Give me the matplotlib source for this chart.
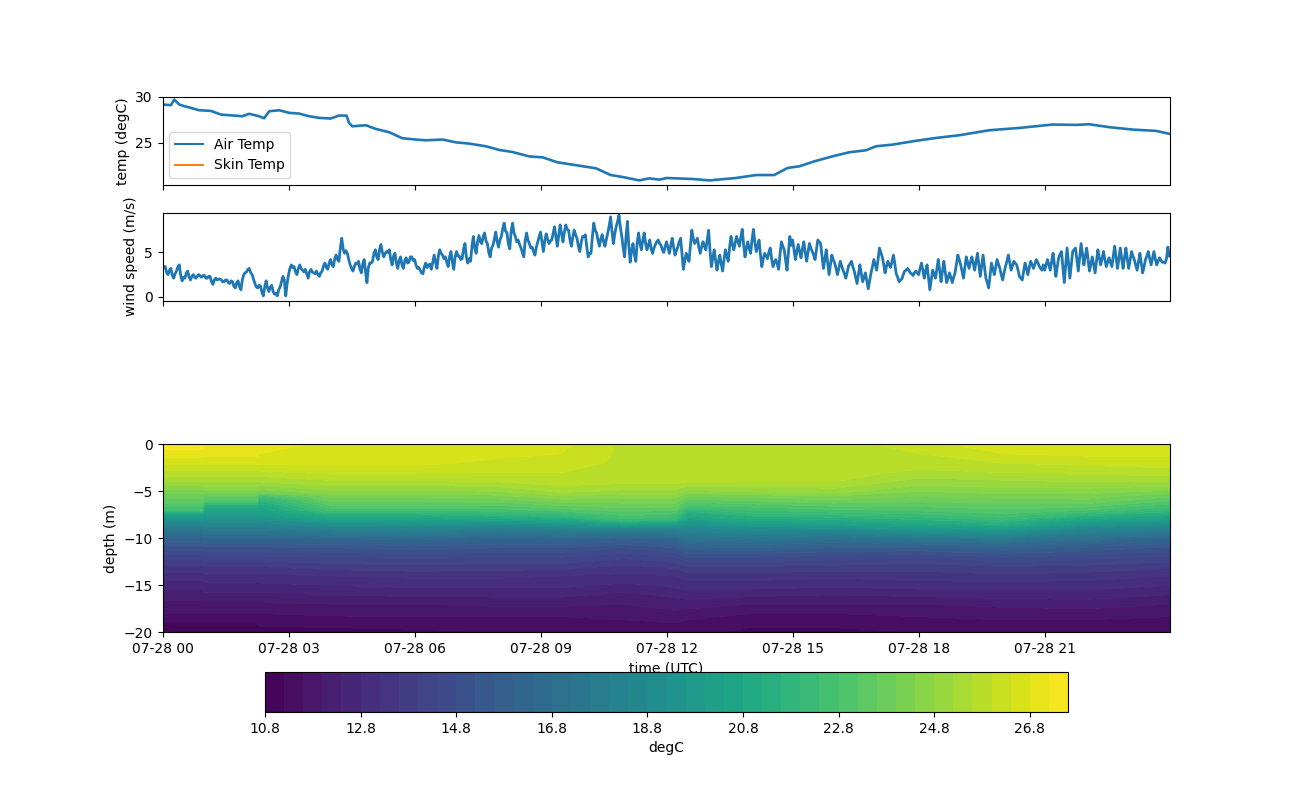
import numpy as np
import pandas as pd
import matplotlib
matplotlib.use("Agg")
import matplotlib.pyplot as plt
import matplotlib.dates as mdates

START = pd.Timestamp("2023-07-28 00:00")

air_hours = [0, 0.2, 0.28, 0.4, 0.52, 0.67, 0.87, 1.15, 1.39, 1.59, 1.9, 2.06, 2.3, 2.42, 2.54, 2.78,
             3.02, 3.25, 3.49, 3.73, 4.0, 4.2, 4.38, 4.44, 4.52, 4.84, 5.08, 5.4, 5.71, 6.03, 6.27,
             6.67, 6.98, 7.3, 7.7, 8.02, 8.33, 8.73, 9.05, 9.4, 9.76, 10.32, 10.67, 10.95, 11.35,
             11.59, 11.83, 12, 12.62, 13.02, 13.65, 14.13, 14.56, 14.88, 15.16, 15.52, 15.95, 16.35,
             16.75, 16.98, 17.38, 17.94, 18.41, 18.97, 19.68, 20.4, 21.19, 21.75, 22.06, 22.54, 23.1,
             23.65, 23.98]
air_temp = [29.13, 29.06, 29.67, 29.13, 28.95, 28.77, 28.51, 28.44, 28.04, 27.97, 27.86, 28.12, 27.86,
            27.64, 28.4, 28.51, 28.22, 28.15, 27.86, 27.68, 27.61, 27.93, 27.93, 27.14, 26.77, 26.88,
            26.48, 26.12, 25.47, 25.33, 25.25, 25.33, 25.03, 24.89, 24.6, 24.2, 23.98, 23.5, 23.4,
            22.86, 22.61, 22.21, 21.48, 21.27, 20.9, 21.12, 20.98, 21.16, 21.05, 20.9, 21.16, 21.48,
            21.48, 22.25, 22.43, 22.97, 23.51, 23.95, 24.17, 24.6, 24.78, 25.2, 25.5, 25.8, 26.34,
            26.59, 26.96, 26.92, 26.99, 26.67, 26.41, 26.27, 25.94]
skin_temp = [np.nan] * len(air_hours)

wind_00_03 = [3.1, 3.4, 3.4, 2.7, 2.5, 3.0, 3.2, 2.4, 2.1, 2.6, 2.9, 3.4, 3.6, 2.4, 1.8, 2.2, 2.1, 2.7,
              2.9, 2.2, 1.9, 2.3, 2.5, 2.2, 2.1, 2.4, 2.5, 2.3, 2.2, 2.4, 2.4, 2.1, 2.1, 2.3, 2.3, 1.7,
              1.4, 1.9, 2.1, 1.9, 2.0, 2.0, 1.9, 1.7, 1.7, 1.9, 1.9, 1.6, 1.5, 1.8, 1.7, 1.2, 1.0, 1.6,
              1.8, 1.1, 0.8, 1.9, 2.5, 2.7, 2.8, 3.1, 3.2, 2.7, 2.5, 2.0, 1.5, 1.1, 1.0, 1.3, 1.2, 0.5,
              0.1, 1.1, 1.8, 1.0, 0.6, 1.1, 1.3, 0.6, 0.3, 0.4, 0.1, 0.8, 1.1, 1.7, 2.3, 1.9, 0.1, 1.5]
wind_03_06 = [2.5, 3.2, 3.6, 3.3, 3.4, 2.8, 2.5, 3.2, 3.6, 3.2, 3.0, 2.8, 3.1, 2.6, 2.1, 2.8, 3.1, 2.8,
              2.7, 2.6, 2.9, 2.5, 2.3, 2.7, 2.9, 3.5, 3.8, 3.3, 3.1, 3.8, 4.2, 3.6, 3.4, 4.3, 4.7, 4.2,
              4.0, 5.5, 6.6, 5.4, 4.9, 5.2, 4.9, 4.2, 3.6, 3.2, 2.9, 3.4, 3.8, 3.7, 4.0, 3.1, 2.7, 3.7,
              4.2, 2.8, 1.6, 3.3, 3.8, 3.8, 4.0, 4.9, 5.3, 4.5, 4.2, 5.3, 5.9, 5.0, 4.5, 4.9, 5.1, 5.0,
              5.3, 4.2, 3.6, 4.6, 4.9, 3.8, 3.2, 4.1, 4.5, 3.6, 3.2, 4.1, 4.4, 3.8, 3.9, 4.5, 4.5, 4.1]
wind_06_09 = [4.2, 3.6, 3.2, 3.3, 3.0, 2.7, 2.6, 3.4, 3.8, 3.3, 3.6, 3.7, 3.1, 3.9, 4.7, 3.9, 3.2, 4.6,
              5.3, 4.9, 4.7, 4.3, 4.5, 3.9, 3.4, 4.5, 5.1, 3.9, 3.1, 4.5, 5.1, 4.6, 4.6, 4.2, 4.3, 5.4,
              6.0, 4.5, 3.8, 4.3, 4.0, 5.7, 6.8, 5.5, 4.9, 6.2, 6.9, 6.2, 6.0, 6.8, 7.2, 6.3, 6.0, 5.0,
              4.5, 5.5, 5.8, 6.5, 7.3, 6.2, 5.6, 6.4, 6.8, 7.7, 8.3, 7.4, 7.2, 6.0, 5.4, 7.4, 8.3, 7.2,
              6.8, 6.2, 6.4, 5.9, 5.5, 5.0, 4.5, 6.3, 7.2, 6.4, 6.0, 5.5, 5.6, 5.1, 4.7, 5.6, 6.2, 6.8]
wind_09_12 = [7.3, 6.2, 5.1, 6.3, 7.1, 6.5, 6.0, 6.3, 6.4, 7.2, 7.9, 6.7, 5.7, 7.0, 8.1, 7.1, 6.2, 7.3,
              8.1, 7.6, 7.5, 6.4, 5.7, 6.7, 7.5, 7.0, 6.6, 5.7, 5.1, 6.1, 6.8, 6.8, 7.0, 5.6, 4.5, 4.9,
              4.9, 6.8, 8.3, 7.5, 7.2, 6.4, 5.7, 6.5, 7.0, 6.2, 5.7, 6.5, 7.2, 8.0, 9.0, 7.4, 6.0, 7.1,
              7.9, 8.5, 9.2, 7.8, 6.8, 5.5, 4.5, 6.7, 8.5, 5.8, 3.9, 5.2, 6.0, 4.8, 4.0, 6.1, 7.2, 6.0,
              5.3, 6.4, 7.2, 6.0, 5.3, 5.9, 6.4, 5.4, 4.9, 5.5, 5.9, 6.2, 6.4, 6.0, 5.8, 5.3, 5.0, 5.7]
wind_12_15 = [6.2, 5.5, 4.9, 5.8, 6.6, 5.6, 4.7, 5.2, 5.6, 6.2, 6.6, 4.8, 3.1, 4.1, 4.9, 4.4, 4.0, 5.8,
              7.5, 6.6, 6.0, 6.3, 6.6, 5.6, 4.9, 5.6, 6.2, 5.7, 5.3, 6.4, 7.5, 5.2, 3.4, 4.4, 5.3, 4.1,
              3.0, 4.0, 4.7, 3.7, 2.9, 4.2, 5.3, 4.6, 4.0, 5.6, 6.8, 5.9, 5.3, 6.1, 6.8, 6.2, 5.7, 6.7,
              7.6, 5.9, 4.5, 5.5, 6.2, 5.4, 4.9, 6.4, 7.6, 6.2, 5.1, 5.7, 6.4, 4.8, 3.4, 4.3, 4.9, 4.6,
              4.3, 5.0, 5.5, 4.3, 3.4, 3.9, 4.2, 3.7, 3.1, 4.8, 6.2, 5.7, 5.3, 4.1, 3.0, 5.0, 6.8, 5.8]
wind_15_18 = [6.4, 5.3, 4.2, 5.1, 5.9, 5.1, 4.4, 5.4, 6.2, 5.0, 4.0, 5.0, 6.0, 5.5, 5.1, 4.7, 4.2, 5.3,
              6.4, 6.2, 6.0, 4.6, 3.2, 4.2, 5.3, 3.9, 2.5, 3.6, 4.7, 4.2, 3.8, 3.2, 2.5, 3.2, 4.0, 3.5,
              3.0, 2.6, 2.1, 2.8, 3.5, 3.7, 4.0, 3.4, 2.9, 2.2, 1.5, 2.5, 3.6, 2.7, 1.7, 2.2, 2.7, 1.8,
              0.9, 1.8, 2.7, 3.4, 4.2, 3.6, 3.0, 4.2, 5.5, 5.0, 4.5, 3.7, 2.7, 3.4, 4.0, 3.6, 3.3, 4.0,
              4.7, 3.7, 2.6, 2.2, 1.7, 1.9, 2.0, 2.5, 2.9, 3.0, 3.2, 3.0, 2.7, 2.6, 2.4, 2.7, 2.9, 2.7]
wind_18_21 = [2.5, 3.2, 3.8, 3.0, 2.1, 2.9, 3.6, 2.2, 0.8, 1.9, 3.0, 2.6, 2.1, 3.1, 4.2, 2.9, 1.7, 2.9,
              4.0, 2.8, 1.6, 2.1, 2.7, 2.2, 1.6, 2.2, 2.7, 3.7, 4.7, 4.2, 3.6, 2.9, 2.1, 3.3, 4.5, 3.9,
              3.2, 3.9, 4.5, 3.8, 3.0, 4.0, 4.9, 3.6, 2.3, 3.5, 4.7, 3.4, 2.1, 1.6, 1.0, 2.4, 3.8, 3.2,
              2.5, 3.3, 4.2, 3.7, 3.2, 2.5, 1.9, 2.7, 3.4, 4.0, 4.7, 3.9, 3.0, 3.5, 4.0, 3.8, 3.6, 3.0,
              2.3, 2.1, 1.9, 2.9, 3.8, 3.2, 2.5, 3.3, 4.0, 3.6, 3.2, 3.7, 4.2, 3.9, 3.5, 3.2, 3.0, 3.6]
wind_21_24 = [3.0, 3.6, 4.2, 3.6, 3.0, 4.0, 4.9, 3.6, 2.3, 3.4, 4.4, 4.8, 5.1, 3.4, 1.6, 3.6, 5.5, 3.8,
              2.1, 3.6, 5.1, 5.3, 5.5, 4.2, 2.9, 4.5, 6.0, 4.8, 3.6, 4.6, 5.5, 4.2, 2.9, 3.7, 4.5, 3.6,
              2.7, 4.0, 5.3, 4.4, 3.6, 4.3, 5.1, 4.2, 3.4, 3.9, 4.4, 3.9, 3.4, 4.6, 5.7, 4.4, 3.2, 4.3,
              5.5, 4.3, 3.2, 4.4, 5.5, 4.3, 3.2, 4.1, 5.1, 4.6, 4.2, 3.6, 3.0, 3.9, 4.9, 3.8, 2.7, 3.4,
              4.2, 4.6, 5.1, 4.3, 3.6, 4.3, 5.1, 4.3, 3.6, 4.0, 4.4, 4.1, 3.9, 3.9, 3.8, 4.3, 5.6, 4.6]
wind_segments = [wind_00_03, wind_03_06, wind_06_09, wind_09_12, wind_12_15, wind_15_18, wind_18_21, wind_21_24]

profile_hours = [0, 0.95, 1.0, 2.25, 2.3, 4, 6, 8, 9.5, 11, 12.2, 12.5, 14, 16, 18, 20, 22, 23.99]
depths = [0, -1, -2, -3, -4, -5, -5.5, -6, -6.5, -7, -7.5, -8, -8.5, -9, -10, -11, -12, -13, -14, -15,
          -16, -17, -18, -19, -20]
p00 = [27.5, 27.0, 26.5, 25.9, 25.2, 24.2, 23.8, 23.4, 23.0, 22.4, 20.4, 19.4, 18.4, 17.5, 16.0, 15.0, 14.2, 13.5, 13.0, 12.6, 12.2, 11.9, 11.6, 11.2, 11.0]
p01 = [27.5, 27.0, 26.5, 25.9, 25.2, 24.2, 23.8, 23.4, 23.0, 22.4, 20.4, 19.4, 18.4, 17.5, 16.0, 15.0, 14.2, 13.5, 13.0, 12.6, 12.2, 11.9, 11.6, 11.2, 11.0]
p02 = [27.2, 26.9, 26.5, 25.9, 25.2, 24.3, 23.6, 23.0, 21.4, 20.4, 19.8, 19.2, 18.6, 17.8, 16.2, 15.1, 14.3, 13.6, 13.1, 12.7, 12.3, 11.9, 11.6, 11.2, 11.0]
p03 = [27.2, 26.9, 26.5, 25.9, 25.2, 24.3, 23.6, 23.0, 21.4, 20.4, 19.8, 19.2, 18.6, 17.8, 16.2, 15.1, 14.3, 13.6, 13.1, 12.7, 12.3, 11.9, 11.6, 11.2, 11.0]
p04 = [27.0, 26.8, 26.5, 25.9, 25.2, 24.2, 22.6, 21.6, 20.9, 20.4, 19.9, 19.2, 18.5, 17.8, 16.2, 15.1, 14.3, 13.6, 13.1, 12.7, 12.3, 11.9, 11.6, 11.3, 11.0]
p05 = [26.7, 26.6, 26.5, 26.1, 25.5, 24.7, 24.2, 23.7, 23.2, 22.5, 21.4, 20.4, 19.2, 18.2, 16.4, 15.2, 14.4, 13.8, 13.2, 12.8, 12.4, 12.0, 11.7, 11.3, 11.1]
p06 = [26.7, 26.6, 26.5, 26.1, 25.5, 24.7, 24.2, 23.7, 23.2, 22.5, 21.4, 20.4, 19.4, 18.4, 16.6, 15.4, 14.5, 13.9, 13.3, 12.9, 12.5, 12.0, 11.7, 11.4, 11.1]
p07 = [26.6, 26.5, 26.3, 26.0, 25.6, 24.8, 24.3, 23.8, 23.2, 22.6, 21.7, 20.6, 19.2, 18.0, 16.2, 15.2, 14.4, 13.8, 13.3, 12.9, 12.5, 12.1, 11.7, 11.4, 11.2]
p08 = [26.5, 26.4, 26.2, 26.0, 25.8, 25.3, 24.8, 24.2, 23.6, 23.0, 22.0, 21.0, 19.6, 18.2, 16.4, 15.2, 14.4, 13.8, 13.2, 12.9, 12.5, 12.1, 11.7, 11.4, 11.2]
p09 = [25.9, 25.9, 25.9, 25.8, 25.7, 25.1, 24.6, 24.2, 23.8, 23.4, 22.9, 22.3, 20.4, 18.4, 16.0, 14.8, 14.1, 13.5, 13.1, 12.7, 12.3, 12.0, 11.8, 11.5, 11.3]
p10 = [25.8, 25.8, 25.8, 25.8, 25.7, 25.1, 24.6, 24.2, 23.8, 23.2, 22.7, 22.0, 20.0, 18.2, 16.4, 15.2, 14.4, 13.7, 13.2, 12.9, 12.5, 12.2, 11.9, 11.6, 11.4]
p11 = [25.8, 25.8, 25.8, 25.8, 25.6, 24.7, 24.0, 23.4, 22.8, 21.8, 21.0, 20.2, 19.4, 18.6, 17.2, 15.8, 14.8, 14.0, 13.4, 13.0, 12.6, 12.2, 11.8, 11.5, 11.3]
p12 = [25.8, 25.8, 25.8, 25.8, 25.6, 24.9, 24.2, 23.6, 23.0, 22.4, 21.8, 21.0, 20.0, 19.0, 17.4, 16.0, 14.8, 14.0, 13.4, 13.0, 12.5, 12.0, 11.6, 11.3, 11.1]
p13 = [25.8, 25.8, 25.8, 25.8, 25.6, 25.0, 24.4, 23.9, 23.3, 22.7, 22.0, 21.2, 20.3, 19.0, 17.0, 15.6, 14.6, 13.9, 13.3, 12.9, 12.4, 12.0, 11.6, 11.3, 11.1]
p14 = [26.2, 26.0, 25.8, 25.5, 25.0, 24.4, 24.0, 23.7, 23.3, 22.9, 22.3, 21.6, 20.7, 19.7, 17.6, 15.6, 14.4, 13.8, 13.4, 13.0, 12.5, 12.0, 11.7, 11.4, 11.2]
p15 = [26.7, 26.4, 26.0, 25.6, 25.1, 24.6, 24.2, 23.8, 23.5, 23.1, 22.7, 22.1, 21.3, 20.0, 17.8, 15.9, 14.8, 14.0, 13.5, 13.0, 12.6, 12.1, 11.8, 11.5, 11.3]
p16 = [26.7, 26.5, 26.1, 25.7, 25.2, 24.6, 24.2, 23.9, 23.4, 22.8, 21.8, 20.6, 19.6, 18.6, 16.9, 15.5, 14.6, 13.9, 13.4, 13.0, 12.6, 12.2, 11.8, 11.5, 11.3]
p17 = [26.7, 26.5, 26.2, 25.8, 25.2, 24.3, 23.7, 23.2, 22.6, 21.9, 21.0, 20.0, 19.0, 18.0, 16.2, 15.1, 14.3, 13.7, 13.2, 12.8, 12.4, 12.0, 11.7, 11.4, 11.2]
profiles = [p00, p01, p02, p03, p04, p05, p06, p07, p08, p09, p10, p11, p12, p13, p14, p15, p16, p17]

level_min, level_max, level_step = 10.8, 27.6, 0.4
tick_step = 2.0


def to_times(hours):
    return START + pd.to_timedelta(np.asarray(hours, dtype=float), unit="h")


def box(x0, y0, x1, y1):
    return [x0 / 1300, 1 - y1 / 800, (x1 - x0) / 1300, (y1 - y0) / 800]


fig = plt.figure(figsize=(13, 8), dpi=100)
ax1 = fig.add_axes(box(162.5, 96.5, 1170, 185))
ax2 = fig.add_axes(box(162.5, 212.5, 1170, 300.8))
ax3 = fig.add_axes(box(162.5, 444.3, 1170, 632.3))
cax = fig.add_axes(box(265, 672, 1068, 712))

xlim = (START, START + pd.Timedelta(hours=23, minutes=59))

air_line, = ax1.plot(to_times(air_hours), air_temp, label="Air Temp")
ax1.plot(to_times(air_hours), skin_temp, label="Skin Temp")
ax1.set_ylabel("temp (degC)")
ax1.set_ylim(20.4, 30.0)
ax1.set_yticks([25, 30])
ax1.legend(loc="lower left")
air_line.set_linewidth(1.9)

wind_hours = np.concatenate([np.linspace(3 * i, 3 * (i + 1), len(s), endpoint=False)
                             for i, s in enumerate(wind_segments)])
wind = np.concatenate(wind_segments)
ax2.plot(to_times(wind_hours), wind, linewidth=2.0)
ax2.set_ylabel("wind speed (m/s)")
ax2.set_ylim(-0.45, 9.5)
ax2.set_yticks([0, 5])

levels = np.arange(level_min, level_max + level_step / 2, level_step)
field = np.array(profiles).T
cf = ax3.contourf(to_times(profile_hours), depths, field, levels=levels, cmap="viridis")
ax3.set_ylabel("depth (m)")
ax3.set_xlabel("time (UTC)")
ax3.set_ylim(-20, 0)
ax3.set_yticks([0, -5, -10, -15, -20])
ax3.set_yticklabels(["0", "\u22125", "\u221210", "\u221215", "\u221220"])

locator = mdates.HourLocator(byhour=range(0, 24, 3))
for ax in (ax1, ax2, ax3):
    ax.set_xlim(*xlim)
    ax.xaxis.set_major_locator(locator)
    ax.xaxis.set_major_formatter(mdates.DateFormatter("%m-%d %H"))
ax1.tick_params(labelbottom=False)
ax2.tick_params(labelbottom=False)

cb = fig.colorbar(cf, cax=cax, orientation="horizontal", ticks=np.arange(level_min, level_max, tick_step))
cb.set_ticklabels([f"{v:.1f}" for v in np.arange(level_min, level_max, tick_step)])
cb.set_label("degC")

fig.savefig("out.png", dpi=100)
